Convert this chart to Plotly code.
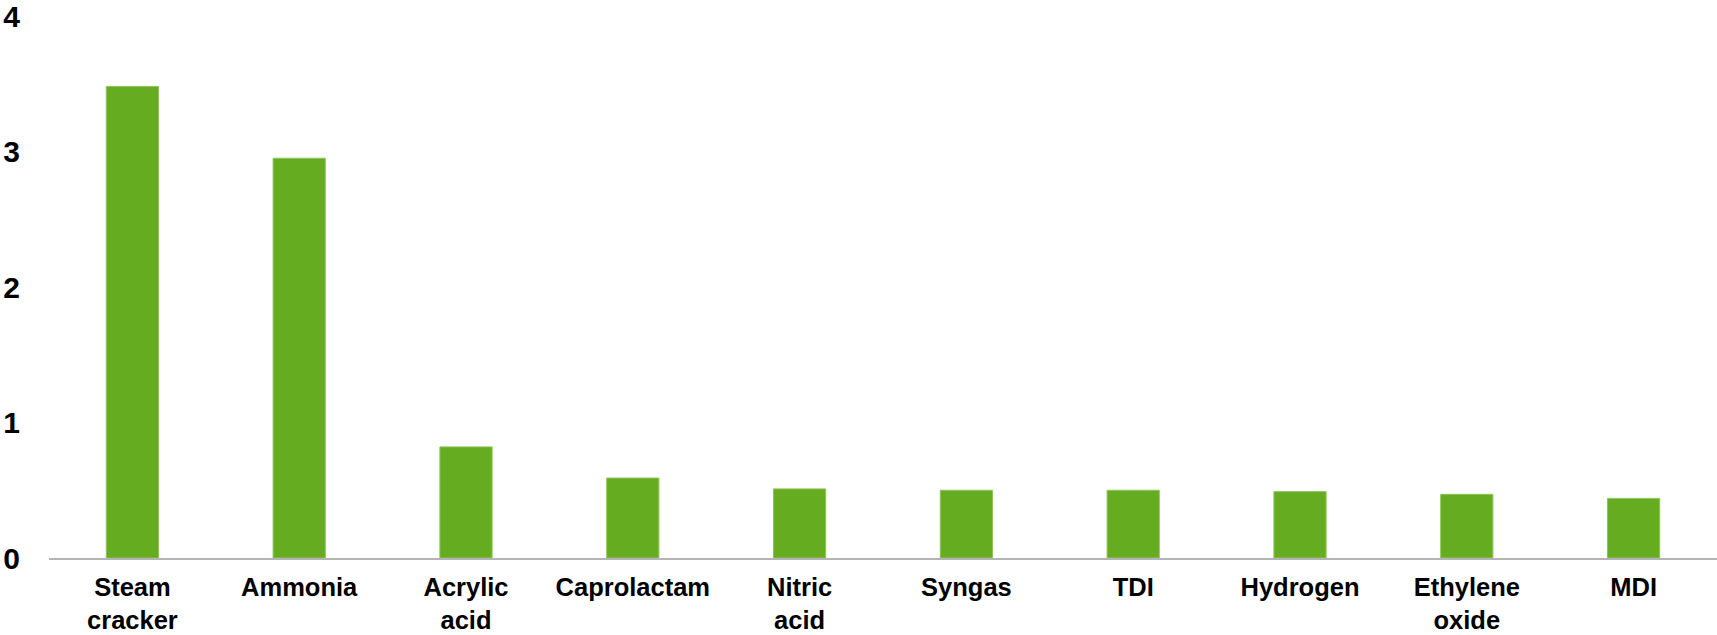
import plotly.graph_objects as go

categories = ["Steam<br>cracker", "Ammonia", "Acrylic<br>acid", "Caprolactam", "Nitric<br>acid",
              "Syngas", "TDI", "Hydrogen", "Ethylene<br>oxide", "MDI"]
values = [3.48, 2.95, 0.82, 0.59, 0.51, 0.50, 0.50, 0.49, 0.47, 0.44]
y_ticks = [0, 1, 2, 3, 4]

fig = go.Figure(go.Bar(
    x=categories, y=values,
    marker=dict(color="#66ac21", line=dict(color="#8cc45a", width=1)),
    hoverinfo="skip",
))

fig.update_layout(
    width=1717, height=635,
    margin=dict(l=49, r=0, t=16, b=77),
    plot_bgcolor="white", paper_bgcolor="white",
    bargap=0.687,
    showlegend=False,
    font=dict(family="Liberation Sans, Arial, sans-serif", color="black"),
)
fig.update_xaxes(
    automargin=False,
    showline=True, linecolor="#b4b4b4", linewidth=2,
    showgrid=False, ticks="",
    tickfont=dict(size=25.5, family="Liberation Sans, Arial, sans-serif", weight="bold"),
    ticklabelstandoff=5,
)
fig.update_yaxes(
    automargin=False,
    range=[0, 4], tickvals=y_ticks, showgrid=False, zeroline=False, showline=False,
    ticks="", ticklabeloverflow="allow",
    tickfont=dict(size=30, family="Liberation Sans, Arial, sans-serif", weight="bold"),
    ticklabelstandoff=28,
)

fig.write_html("out.html", config={"displayModeBar": False},
               post_script="document.body.style.margin='0';document.body.style.overflow='hidden';")
